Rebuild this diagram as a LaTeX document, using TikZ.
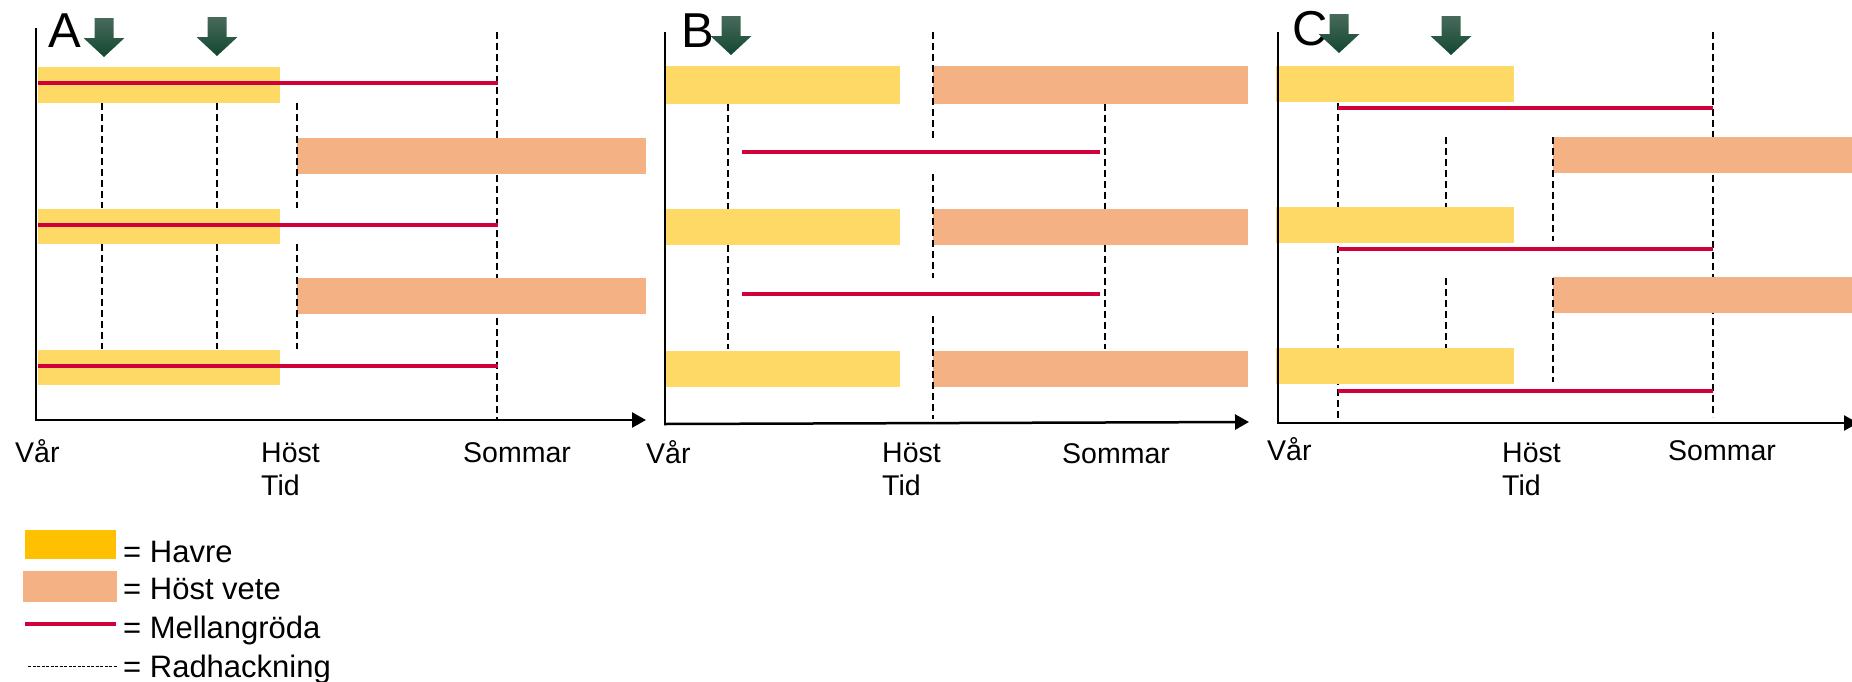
\documentclass[tikz,border=0pt]{standalone}
\usepackage{fontspec}
\setmainfont{Liberation Sans}
\usetikzlibrary{arrows.meta}
\definecolor{havre}{HTML}{FFD966}
\definecolor{havreleg}{HTML}{FFC000}
\definecolor{vete}{HTML}{F4B183}
\definecolor{mellan}{RGB}{208,0,58}
\definecolor{arrtop}{RGB}{72,106,92}
\definecolor{arrbot}{RGB}{18,72,48}
\newcommand\grarrow[2]{\shade[top color=arrtop, middle color=arrbot, bottom color=arrbot]
  ({#1-9.5},#2) -- ({#1+9.5},#2) -- ({#1+9.5},{#2+20}) -- ({#1+20.5},{#2+20}) -- (#1,{#2+39})
  -- ({#1-20.5},{#2+20}) -- ({#1-9.5},{#2+20}) -- cycle;}
\begin{document}
\begin{tikzpicture}[x=1pt,y=-1pt,
  havrebar/.style={fill=havre, draw=none},
  vetebar/.style={fill=vete, draw=none},
  mline/.style={draw=mellan, line width=4pt},
  hack/.style={draw=black, line width=2.5pt, dash pattern=on 7pt off 4pt},
  yaxis/.style={draw=black, line width=1.5pt},
  xaxis/.style={draw=black, line width=2.5pt, -{Triangle[length=14pt,width=15pt]}},
  lbl/.style={inner sep=0pt, anchor=base west, font=\fontsize{28.5}{30}\selectfont},
  big/.style={inner sep=0pt, anchor=base west, font=\fontsize{49}{50}\selectfont},
  leg/.style={inner sep=0pt, anchor=base west, font=\fontsize{31}{32}\selectfont}]
\useasboundingbox (0,0) rectangle (1852,681);

% ---------------- Panel A ----------------
\draw[hack] (497,32) -- (497,419);
\fill[havrebar] (38,67) rectangle (280,103);
\fill[havrebar] (38,209) rectangle (280,244);
\fill[havrebar] (38,350) rectangle (280,385);
\fill[vetebar] (297,138) rectangle (646,174);
\fill[vetebar] (297,278) rectangle (646,314);
\draw[mline] (38,83) -- (498,83);
\draw[mline] (38,225) -- (498,225);
\draw[mline] (38,366) -- (498,366);
\foreach \x in {102,217,297}{
  \draw[hack] (\x,103) -- (\x,208);
  \draw[hack] (\x,244) -- (\x,349);
}
\draw[yaxis] (36,28) -- (36,421);
\draw[xaxis] (35,420) -- (646,420);
\node[big] (lA) at (48,47) {A};
\grarrow{104}{18}
\grarrow{217}{17}
\node[lbl] (aVar) at (15,462) {Vår};
\node[lbl] (aHost) at (261,462) {Höst};
\node[lbl] (aTid) at (261,495) {Tid};
\node[lbl] (aSom) at (463,462) {Sommar};

% ---------------- Panel B ----------------
\fill[havrebar] (666,66) rectangle (900,104);
\fill[havrebar] (666,209) rectangle (900,245);
\fill[havrebar] (666,351) rectangle (900,387);
\fill[vetebar] (933,66) rectangle (1248,104);
\fill[vetebar] (933,209) rectangle (1248,245);
\fill[vetebar] (933,351) rectangle (1248,387);
\draw[mline] (742,152) -- (1100,152);
\draw[mline] (742,294) -- (1100,294);
\foreach \x in {728,1105}{
  \draw[hack] (\x,104) -- (\x,209);
  \draw[hack] (\x,245) -- (\x,349);
}
\draw[hack] (933,32) -- (933,138);
\draw[hack] (933,174) -- (933,278);
\draw[hack] (933,316) -- (933,419);
\draw[yaxis] (665,32) -- (665,424);
\draw[xaxis] (664,424) -- (1249,422);
\node[big] (lB) at (681,47) {B};
\grarrow{731}{16}
\node[lbl] (bVar) at (646,463) {Vår};
\node[lbl] (bHost) at (882,462) {Höst};
\node[lbl] (bTid) at (882,495) {Tid};
\node[lbl] (bSom) at (1062,463) {Sommar};

% ---------------- Panel C ----------------
\draw[hack] (1338,103) -- (1338,418);
\draw[hack] (1713,32) -- (1713,417);
\fill[havrebar] (1276,66) rectangle (1514,102);
\fill[havrebar] (1276,207) rectangle (1514,243);
\fill[havrebar] (1276,348) rectangle (1514,384);
\fill[vetebar] (1553,137) rectangle (1852,173);
\fill[vetebar] (1553,277) rectangle (1852,313);
\draw[mline] (1338,108) -- (1713,108);
\draw[mline] (1338,249) -- (1713,249);
\draw[mline] (1338,391) -- (1713,391);
\draw[hack] (1446,137) -- (1446,207);
\draw[hack] (1446,278) -- (1446,348);
\draw[hack] (1553,137) -- (1553,241);
\draw[hack] (1553,278) -- (1553,382);
\draw[yaxis] (1278,32) -- (1278,424);
\draw[xaxis] (1277,423) -- (1858,423);
\node[big] (lC) at (1292,45) {C};
\grarrow{1339}{14}
\grarrow{1451}{16}
\node[lbl] (cVar) at (1267,460) {Vår};
\node[lbl] (cHost) at (1502,462) {Höst};
\node[lbl] (cTid) at (1502,495) {Tid};
\node[lbl] (cSom) at (1668,460) {Sommar};

% ---------------- Legend ----------------
\fill[havreleg] (25,530) rectangle (116,559);
\fill[vete] (23,571) rectangle (117,602);
\draw[mline] (25,624) -- (116,624);
\draw[black, line width=1pt, dash pattern=on 3pt off 1.5pt] (28,666) -- (118,666);
\node[leg] (gHavre) at (123,562) {= Havre};
\node[leg] (gVete) at (123,599) {= Höst vete};
\node[leg] (gMellan) at (123,638) {= Mellangröda};
\node[leg] (gRad) at (123,677) {= Radhackning};
\end{tikzpicture}
\end{document}
